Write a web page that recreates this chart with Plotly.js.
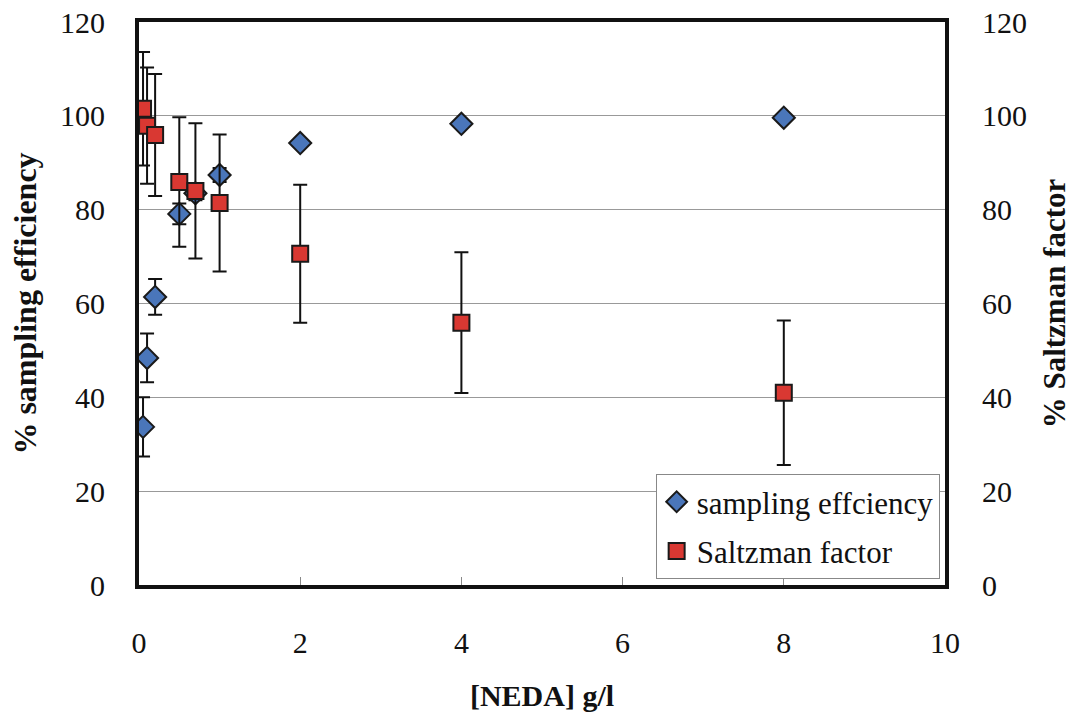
<!DOCTYPE html>
<html>
<head>
<meta charset="utf-8">
<script src="https://cdn.plot.ly/plotly-3.0.1.min.js"></script>
<style>
html,body{margin:0;padding:0;background:#fff;}
#chart{width:1072px;height:716px;}
</style>
</head>
<body>
<div id="chart"></div>
<script>
// NEDA concentration (g/l)
const neda = [0.05, 0.1, 0.2, 0.5, 0.7, 1, 2, 4, 8];
// % sampling efficiency and its error
const samplingEff = [33.7, 48.4, 61.4, 79.1, 83.5, 87.4, 94.2, 98.3, 99.6];
const samplingErr = [6.3, 5.2, 3.8, 2.2, 1.5, 1.5, 0, 0, 0];
// % Saltzman factor and its error
const saltzman = [101.5, 97.9, 95.9, 85.9, 84.0, 81.4, 70.6, 55.9, 41.0];
const saltzmanErr = [12.1, 12.4, 13.0, 13.8, 14.4, 14.6, 14.7, 15.0, 15.4];
// tick values
const xTicks = [0, 2, 4, 6, 8, 10];
const yTicks = [0, 20, 40, 60, 80, 100, 120];

const serif = "'Liberation Serif', 'Times New Roman', serif";

const traces = [
  {
    x: neda, y: samplingEff, name: 'sampling effciency', type: 'scatter', mode: 'markers',
    legendgroup: 'a',
    marker: {symbol: 'diamond', size: 17, color: '#4A76BA', line: {color: '#1a1a1a', width: 2}},
    error_y: {type: 'data', array: samplingErr, visible: true, color: '#111', thickness: 2, width: 7},
    yaxis: 'y'
  },
  {
    x: neda, y: saltzman, name: 'Saltzman factor', type: 'scatter', mode: 'markers',
    legendgroup: 'b',
    marker: {symbol: 'square', size: 16, color: '#D93832', line: {color: '#1a1a1a', width: 2}},
    error_y: {type: 'data', array: saltzmanErr, visible: true, color: '#111', thickness: 2, width: 7},
    yaxis: 'y2'
  }
];

const layout = {
  width: 1072, height: 716,
  paper_bgcolor: '#fff', plot_bgcolor: '#fff',
  margin: {l: 139, r: 127, t: 22, b: 131, pad: 0},
  font: {family: serif, color: '#111', size: 30},
  showlegend: true,
  legend: {
    x: 0.641, y: 0.197, xanchor: 'left', yanchor: 'top',
    bgcolor: '#fff', bordercolor: '#888', borderwidth: 1,
    font: {family: serif, size: 31, color: '#111'},
    traceorder: 'grouped', tracegroupgap: 6
  },
  xaxis: {
    range: [0, 10], tickvals: xTicks, ticktext: xTicks.map(String),
    showgrid: false, zeroline: false,
    showline: true, linecolor: '#111', linewidth: 4, mirror: true,
    ticks: 'inside', ticklen: 8, tickcolor: '#888', tickwidth: 1,
    ticklabelstandoff: 28,
    tickfont: {family: serif, size: 30, color: '#111'},
    title: {text: '<b>[NEDA] g/l</b>', font: {family: serif, size: 30, color: '#111'}, standoff: 28}
  },
  yaxis: {
    range: [0, 120], tickvals: yTicks, ticktext: yTicks.map(String),
    showgrid: true, gridcolor: '#999', gridwidth: 1, zeroline: false,
    showline: true, linecolor: '#111', linewidth: 4, mirror: true,
    ticks: '', ticklabelstandoff: 24,
    tickfont: {family: serif, size: 30, color: '#111'},
    title: {text: '<b>% sampling efficiency</b>', font: {family: serif, size: 32, color: '#111'}, standoff: 15}
  },
  yaxis2: {
    range: [0, 120], tickvals: yTicks, ticktext: yTicks.map(String),
    overlaying: 'y', side: 'right',
    showgrid: false, zeroline: false, showline: false,
    ticks: '', ticklabelstandoff: 36,
    tickfont: {family: serif, size: 30, color: '#111'},
    title: {text: '<b>% Saltzman factor</b>', font: {family: serif, size: 31, color: '#111'}, standoff: 18}
  }
};

Plotly.newPlot('chart', traces, layout, {displayModeBar: false, staticPlot: true});
</script>
</body>
</html>
